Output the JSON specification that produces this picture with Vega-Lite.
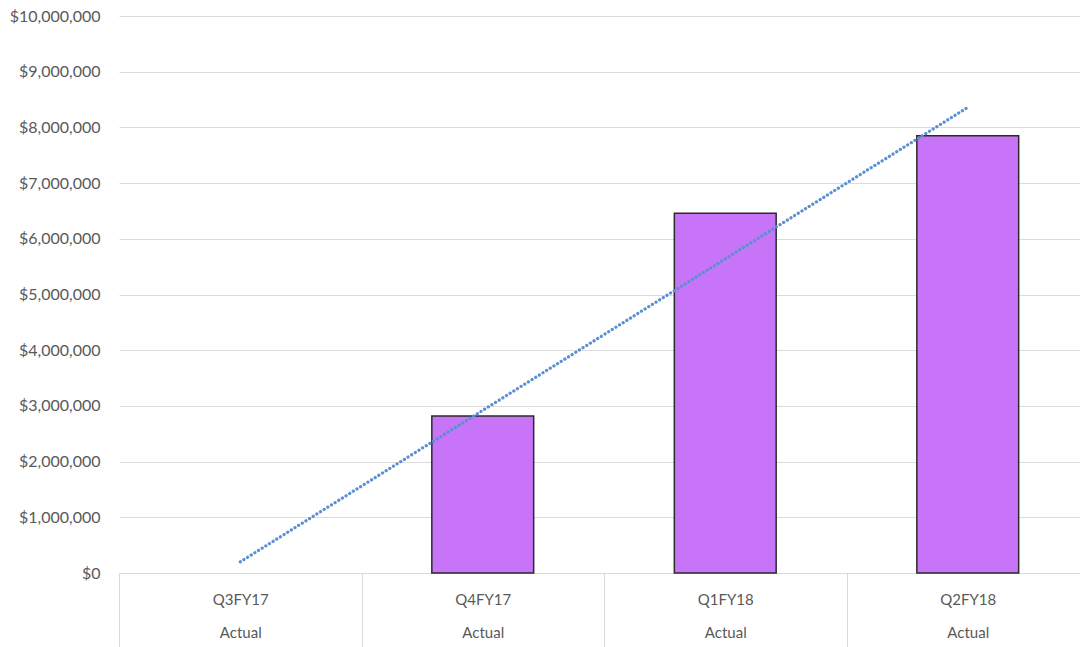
{
  "$schema": "https://vega.github.io/schema/vega-lite/v6.json",
  "width": 970,
  "height": 557,
  "autosize": "none",
  "padding": {"left": 119, "top": 16, "right": 0, "bottom": 74},
  "background": "white",
  "config": {"view": {"stroke": null}, "font": "Lato"},
  "datasets": {
    "bars": [
      {"quarter": "Q3FY17", "value": 0},
      {"quarter": "Q4FY17", "value": 2820000},
      {"quarter": "Q1FY18", "value": 6460000},
      {"quarter": "Q2FY18", "value": 7850000}
    ],
    "trend": [
      {"quarter": "Q3FY17", "trend": 200000},
      {"quarter": "Q2FY18", "trend": 8360000}
    ]
  },
  "layer": [
    {
      "data": {"name": "bars"},
      "mark": {"type": "bar", "color": "#C874F8", "stroke": "#2a2a2a", "width": {"band": 0.42}},
      "encoding": {
        "x": {
          "field": "quarter", "type": "nominal",
          "scale": {"domain": ["Q3FY17", "Q4FY17", "Q1FY18", "Q2FY18"], "paddingInner": 0, "paddingOuter": 0},
          "axis": {
            "title": null, "labelAngle": 0, "domainColor": "#d9d9d9",
            "tickBand": "extent", "tickSize": 74, "tickColor": "#d9d9d9",
            "labelExpr": "datum.value ? [datum.value, 'Actual'] : ''", "labelLineHeight": 33,
            "labelFontSize": 15, "labelColor": "#595959", "labelPadding": -55,
            "labelBaseline": "top"
          }
        },
        "y": {
          "field": "value", "type": "quantitative",
          "scale": {"domain": [0, 10000000]},
          "axis": {
            "title": null, "tickCount": 10, "format": "$,.0f", "domain": false, "ticks": false,
            "labelPadding": 19, "labelFontSize": 16, "labelColor": "#595959",
            "gridColor": "#dcdcdc", "gridWidth": 1.2
          }
        },
        "strokeWidth": {"condition": {"test": "datum.value > 0", "value": 1.5}, "value": 0}
      }
    },
    {
      "data": {"name": "trend"},
      "mark": {"type": "line", "color": "#5B8FD0", "strokeWidth": 3.2, "strokeDash": [0.1, 4.2], "strokeCap": "round"},
      "encoding": {
        "x": {"field": "quarter", "type": "nominal"},
        "y": {"field": "trend", "type": "quantitative"}
      }
    }
  ]
}
